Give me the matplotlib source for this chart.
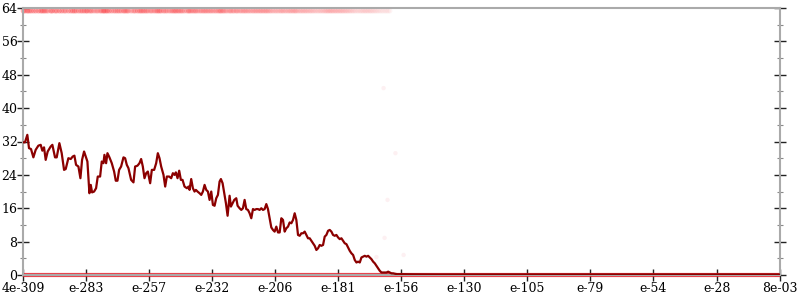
import numpy as np
import matplotlib
matplotlib.use('Agg')
import matplotlib.pyplot as plt
from matplotlib.ticker import MultipleLocator

# log10 of the input magnitude (x) and the mean value per point (y)
exponents = [
    -308.27, -307.6, -306.65, -305.97, -305.16, -304.2, -303.27, -302.19, -301.24, -300.57,
    -299.89, -299.22, -298.41, -297.19, -296.52, -295.44, -294.76, -293.68, -292.74, -291.79,
    -291.12, -290.04, -289.09, -288.28, -287.6, -286.93, -285.98, -285.17, -284.5, -283.69,
    -282.88, -282.34, -281.53, -280.99, -280.45, -279.64, -278.83, -278.15, -277.2, -276.53,
    -275.85, -275.45, -274.77, -274.23, -273.42, -272.48, -271.53, -270.86, -270.18, -269.51,
    -268.7, -267.75, -267.08, -266.4, -265.73, -264.65, -263.7, -263.03, -262.08, -261.27,
    -260.6, -259.92, -259.24, -258.57, -257.89, -256.95, -256.27, -255.33, -254.52, -253.84,
    -253.17, -252.49, -251.55, -250.87, -250.2, -249.25, -248.44, -247.76, -247.09, -246.55,
    -245.87, -245.2, -244.52, -243.85, -243.04, -242.09, -241.42, -241.01, -240.34, -239.66,
    -238.99, -238.45, -237.77, -236.96, -236.28, -235.61, -234.93, -234.26, -233.58, -232.91,
    -232.23, -231.56, -230.88, -230.21, -229.53, -228.86, -228.32, -227.64, -226.97, -226.29,
    -225.62, -224.81, -224.27, -223.59, -222.92, -222.11, -221.57, -220.76, -220.08, -219.41,
    -218.73, -218.06, -217.38, -216.71, -216.03, -215.35, -214.68, -214.0, -213.33, -212.65,
    -211.98, -211.3, -210.63, -209.95, -209.28, -208.6, -207.93, -207.25, -206.58, -205.9,
    -205.22, -204.55, -203.87, -203.2, -202.52, -201.85, -201.17, -200.5, -199.82, -199.15,
    -198.47, -197.8, -197.12, -196.45, -195.77, -195.09, -194.42, -193.74, -193.07, -192.39,
    -191.72, -191.04, -190.37, -189.69, -189.02, -188.34, -187.67, -186.99, -186.32, -185.64,
    -184.96, -184.29, -183.61, -182.94, -182.26, -181.59, -180.91, -180.24, -179.56, -178.89,
    -178.21, -177.54, -176.86, -176.19, -175.51, -174.83, -174.16, -173.48, -172.81, -172.13,
    -171.46, -170.78, -170.11, -169.43, -168.76, -168.08, -167.41, -166.73, -166.06, -165.38,
    -164.7, -164.03, -163.35, -162.68, -162.0, -161.33, -160.65, -159.98, -159.3, -158.63,
    -157.95, -157.0, -155.66, -150.0, -140.0, -130.0, -120.0, -110.0, -100.0, -90.0,
    -80.0, -70.0, -60.0, -50.0, -40.0, -30.0, -20.0, -10.0, -2.1,
]
mean_bits = [
    31.8, 31.8, 33.6, 30.4, 30.2, 28.2, 30.0, 31.0, 31.2, 29.8,
    30.6, 27.6, 29.6, 30.8, 31.2, 28.2, 28.2, 31.6, 29.2, 25.2,
    25.4, 28.0, 27.8, 28.4, 28.6, 26.4, 26.0, 23.2, 27.6, 29.6,
    28.2, 27.2, 19.6, 21.6, 19.8, 20.0, 20.8, 23.6, 23.6, 27.2,
    26.8, 28.8, 26.8, 29.2, 28.2, 26.8, 24.8, 22.6, 22.6, 25.2,
    26.0, 28.2, 28.0, 26.4, 25.6, 22.8, 22.2, 26.0, 26.2, 26.8,
    27.8, 26.0, 23.2, 24.4, 24.8, 22.0, 25.2, 25.2, 26.8, 29.2,
    28.0, 26.0, 24.0, 21.2, 23.6, 23.6, 23.2, 24.4, 24.0, 24.6,
    23.2, 25.0, 22.8, 22.8, 21.2, 20.8, 21.2, 20.4, 23.0, 20.8,
    20.0, 20.4, 20.0, 19.6, 19.2, 20.0, 21.6, 20.4, 20.0, 18.0,
    20.0, 16.8, 16.6, 18.4, 19.2, 22.4, 23.0, 22.0, 19.6, 17.2,
    14.2, 19.0, 16.4, 17.2, 18.0, 18.4, 16.6, 16.0, 15.6, 16.0,
    18.0, 15.8, 15.6, 14.8, 13.6, 15.8, 15.6, 15.8, 15.8, 15.6,
    16.0, 15.6, 15.8, 17.0, 15.8, 13.6, 11.4, 10.8, 10.4, 11.6,
    10.2, 10.2, 13.6, 13.2, 10.4, 11.2, 11.6, 12.6, 12.4, 13.2,
    14.8, 13.2, 9.6, 9.4, 10.0, 10.0, 10.4, 9.6, 8.8, 8.8,
    8.2, 7.6, 7.0, 6.0, 6.4, 7.2, 7.0, 7.2, 9.2, 9.6,
    10.6, 10.8, 10.4, 9.6, 9.4, 9.6, 9.0, 8.6, 8.8, 8.2,
    7.6, 7.4, 6.6, 5.8, 5.2, 4.8, 3.6, 3.0, 3.2, 3.0,
    4.2, 4.4, 4.6, 4.4, 4.6, 4.2, 3.8, 3.2, 2.8, 2.2,
    1.6, 1.0, 0.6, 0.6, 0.6, 0.6, 0.8, 0.6, 0.4, 0.4,
    0.3, 0.2, 0.2, 0.15, 0.12, 0.12, 0.12, 0.12, 0.12, 0.12,
    0.12, 0.12, 0.12, 0.12, 0.12, 0.12, 0.12, 0.12, 0.12,
]

# a few stray samples between the two bands
stray_x = [-165.4, -162.5, -162.1, -160.9, -157.7, -154.4]
stray_y = [4.3, 44.8, 8.9, 18.0, 29.2, 4.8]

tick_pos = [-308.4, -282.9, -257.4, -231.9, -206.4, -180.9, -155.3,
            -129.8, -104.3, -78.8, -53.3, -27.7, -2.1]
tick_labels = ['4e-309', 'e-283', 'e-257', 'e-232', 'e-206', 'e-181', 'e-156',
               'e-130', 'e-105', 'e-79', 'e-54', 'e-28', '8e-03']

x = np.array(exponents)
y = np.array(mean_bits)

plt.rcParams['font.family'] = ['DejaVu Serif']
fig = plt.figure(figsize=(8, 3), dpi=100)
ax = fig.add_axes([23 / 800, 25 / 300, 757 / 800, 267 / 300])

# samples that hit all 64 bits: fade as the mean drops
top = y > 0.5
cols = np.zeros((top.sum(), 4))
cols[:, 0] = 0.98
cols[:, 1] = 0.2
cols[:, 2] = 0.22
cols[:, 3] = np.clip(0.05 + 0.01 * y[top], 0.05, 0.4)
ax.scatter(x[top], np.full(top.sum(), 63.3), s=14, c=cols, edgecolors='none',
           zorder=2, clip_on=False)

# samples with zero bits
ax.plot(x, np.zeros_like(x), color='#e8202a', lw=3, alpha=0.85, zorder=2,
        clip_on=False, solid_capstyle='butt')

ax.scatter(stray_x, stray_y, s=10, color='#f4a0a8', alpha=0.15,
           edgecolors='none', zorder=2)

# mean
ax.plot(x, y, color='#8b0000', lw=1.6, zorder=3)

ax.set_xlim(-308.4, -2.1)
ax.set_ylim(0, 64)
ax.set_xticks(tick_pos)
ax.set_xticklabels(tick_labels)
ax.yaxis.set_major_locator(MultipleLocator(8))
ax.yaxis.set_minor_locator(MultipleLocator(4))

for s in ax.spines.values():
    s.set_color('#aaaaaa')
    s.set_linewidth(1.5)

ax.tick_params(axis='both', which='major', direction='inout', length=8,
               width=1, color='#222222', labelsize=9, pad=1)
ax.tick_params(axis='y', which='both', right=True)
ax.tick_params(axis='y', which='minor', direction='inout', length=5,
               width=0.8, color='#888888')
ax.tick_params(axis='y', pad=0)

fig.savefig('out.png', dpi=100)
